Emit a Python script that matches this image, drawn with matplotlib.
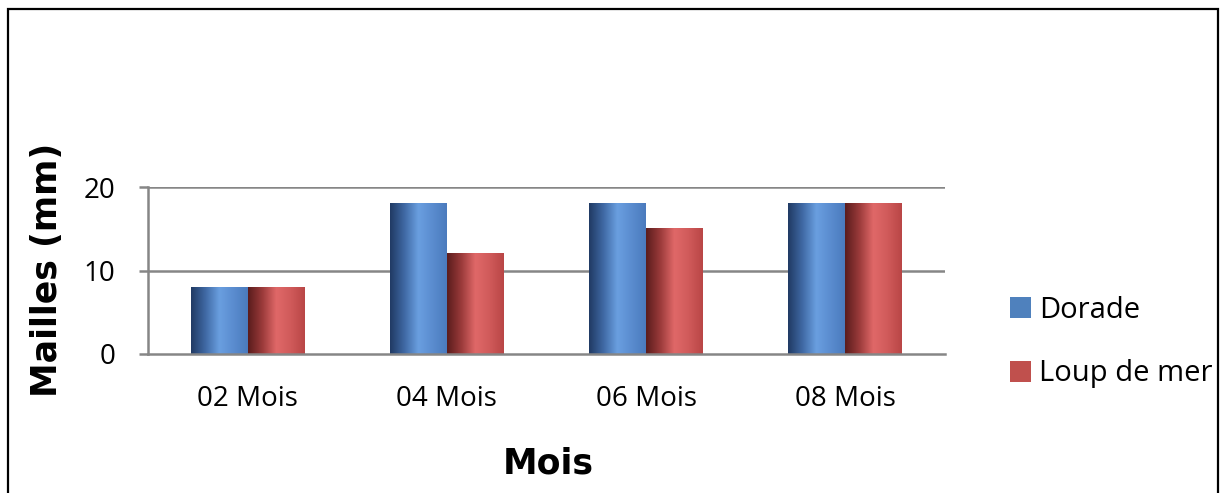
import numpy as np
import matplotlib.pyplot as plt
from matplotlib.colors import LinearSegmentedColormap
from matplotlib.patches import Patch, Rectangle

# donnees : taille des mailles par mois
mois = ["02 Mois", "04 Mois", "06 Mois", "08 Mois"]
dorade = [8, 18, 18, 18]
loup_de_mer = [8, 12, 15, 18]

W, H = 1221, 493
fig = plt.figure(figsize=(W / 100, H / 100), dpi=100)
ax = fig.add_axes([148 / W, 1 - 354 / H, 797 / W, 167 / H])

# cadre noir autour du graphique (ouvert en bas)
fig.patches.append(Rectangle((8 / W, -0.05), 1210 / W, 1.05 - 9 / H, transform=fig.transFigure,
                             fill=False, edgecolor="black", linewidth=1.6))

cm_bleu = LinearSegmentedColormap.from_list("bleu", ["#203a63", "#3f68a3", "#6a9fe0", "#5a8ccf", "#4b7bbd"])
cm_rouge = LinearSegmentedColormap.from_list("rouge", ["#5a1c1c", "#9a3a3a", "#e06868", "#d05a5a", "#b94646"])
grad = np.linspace(0, 1, 256).reshape(1, -1)

largeur = 0.286
x = np.arange(len(mois))


def barre_cylindre(x0, h, cmap):
    # barre avec un degrade horizontal facon cylindre
    ax.imshow(grad, extent=[x0, x0 + largeur, 0, h], cmap=cmap, aspect="auto",
              interpolation="bicubic", zorder=3)


for i in range(len(mois)):
    barre_cylindre(x[i] - largeur, dorade[i], cm_bleu)
    barre_cylindre(x[i], loup_de_mer[i], cm_rouge)

ax.set_xlim(-0.5, len(mois) - 0.5)
ax.set_ylim(0, 20)
ax.set_yticks([0, 10, 20])
ax.set_xticks(x)
ax.set_xticklabels(mois)

gris = "#868686"
for y in [10, 20]:
    ax.axhline(y, color=gris, linewidth=1.8, zorder=1)
for s in ["top", "right"]:
    ax.spines[s].set_visible(False)
ax.spines["left"].set_color(gris)
ax.spines["bottom"].set_color(gris)
ax.spines["left"].set_linewidth(1.8)
ax.spines["bottom"].set_linewidth(1.8)
ax.spines["bottom"].set_zorder(4)

ax.tick_params(axis="y", length=6.5, width=1.8, color=gris, pad=17,
               labelsize=20, labelfontfamily="Open Sans")
ax.tick_params(axis="x", length=0, pad=22, labelsize=20, labelfontfamily="Open Sans")

fig.text(47 / W, 1 - 270 / H, "Mailles (mm)", rotation=90, ha="center", va="center",
         fontsize=25, fontweight="heavy")
fig.text(548 / W, 1 - 463 / H, "Mois", ha="center", va="center", fontsize=25, fontweight="heavy")

poignees = [Patch(facecolor="#4f81bd", edgecolor="none"), Patch(facecolor="#c0504d", edgecolor="none")]
fig.legend(poignees, ["Dorade", "Loup de mer"], loc="center left", bbox_to_anchor=(984 / W, 1 - 342 / H),
           frameon=False, prop={"family": "Open Sans", "size": 21}, handlelength=0.7, handleheight=0.7,
           handletextpad=0.3, labelspacing=1.2)

fig.savefig("out.png", dpi=100)
